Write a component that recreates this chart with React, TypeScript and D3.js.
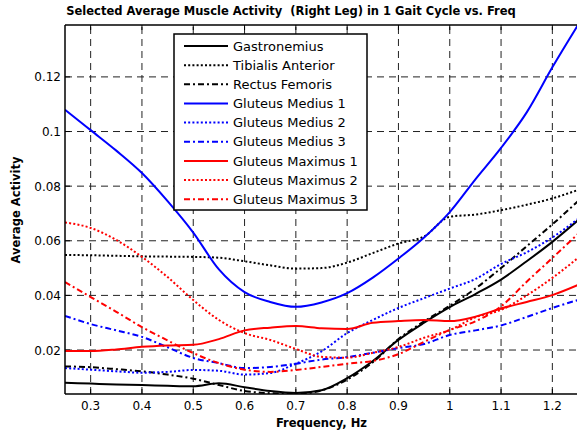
import React from "react";
import * as d3 from "d3";

const freq = [0.25, 0.3, 0.35, 0.4, 0.45, 0.5, 0.55, 0.6, 0.65, 0.7, 0.75, 0.8, 0.85, 0.9, 0.95, 1.0, 1.05, 1.1, 1.15, 1.2, 1.25];

const gastronemius = [0.008, 0.0077, 0.0074, 0.0072, 0.0069, 0.0067, 0.0078, 0.0064, 0.005, 0.0043, 0.0053, 0.0097, 0.016, 0.0237, 0.03, 0.0357, 0.0405, 0.0458, 0.0525, 0.0596, 0.0675];
const tibialisAnterior = [0.0548, 0.0547, 0.0545, 0.0543, 0.0542, 0.0541, 0.0538, 0.0525, 0.051, 0.0498, 0.05, 0.052, 0.0555, 0.059, 0.0616, 0.0688, 0.0696, 0.0712, 0.0732, 0.0755, 0.0786];
const rectusFemoris = [0.014, 0.0137, 0.013, 0.0122, 0.011, 0.0095, 0.0072, 0.005, 0.0042, 0.004, 0.0052, 0.0092, 0.0155, 0.024, 0.0305, 0.0362, 0.0425, 0.05, 0.058, 0.066, 0.0745];
const glutMed1 = [0.108, 0.1005, 0.093, 0.0848, 0.0745, 0.063, 0.0495, 0.0412, 0.0376, 0.0358, 0.0374, 0.0408, 0.0465, 0.0535, 0.0612, 0.0705, 0.0825, 0.094, 0.107, 0.1235, 0.139];
const glutMed2 = [0.0134, 0.0128, 0.0122, 0.0117, 0.012, 0.0127, 0.0124, 0.011, 0.0116, 0.015, 0.0195, 0.0262, 0.031, 0.0354, 0.039, 0.0425, 0.046, 0.0515, 0.0558, 0.0612, 0.068];
const glutMed3 = [0.0325, 0.0295, 0.0272, 0.0248, 0.021, 0.0171, 0.0152, 0.0134, 0.0138, 0.015, 0.0165, 0.0174, 0.019, 0.0207, 0.0222, 0.0255, 0.0272, 0.029, 0.0321, 0.0354, 0.0383];
const glutMax1 = [0.0196, 0.0196, 0.0202, 0.0212, 0.0217, 0.0219, 0.024, 0.0272, 0.0282, 0.0288, 0.028, 0.0277, 0.03, 0.0306, 0.031, 0.0306, 0.0322, 0.0352, 0.0376, 0.0401, 0.0438];
const glutMax2 = [0.0667, 0.0647, 0.0603, 0.0541, 0.0467, 0.0383, 0.031, 0.0262, 0.0237, 0.0204, 0.0175, 0.0172, 0.019, 0.0211, 0.0245, 0.0273, 0.032, 0.0347, 0.04, 0.0464, 0.0537];
const glutMax3 = [0.0449, 0.0394, 0.034, 0.0284, 0.0235, 0.0189, 0.0152, 0.0128, 0.012, 0.0127, 0.0138, 0.015, 0.016, 0.0185, 0.023, 0.0273, 0.0305, 0.036, 0.045, 0.0537, 0.0625];

const seriesNames = ["Gastronemius", "Tibialis Anterior", "Rectus Femoris", "Gluteus Medius 1", "Gluteus Medius 2", "Gluteus Medius 3", "Gluteus Maximus 1", "Gluteus Maximus 2", "Gluteus Maximus 3"];
const seriesValues = [gastronemius, tibialisAnterior, rectusFemoris, glutMed1, glutMed2, glutMed3, glutMax1, glutMax2, glutMax3];
const seriesColors = ["#000000", "#000000", "#000000", "#0000ff", "#0000ff", "#0000ff", "#ff0000", "#ff0000", "#ff0000"];
const seriesStyles = ["solid", "dotted", "dashdot", "solid", "dotted", "dashdot", "solid", "dotted", "dashdot"];

const xTicks = [0.3, 0.4, 0.5, 0.6, 0.7, 0.8, 0.9, 1.0, 1.1, 1.2];
const yTicks = [0.02, 0.04, 0.06, 0.08, 0.1, 0.12];
const xDomain = [0.25, 1.25];
const yDomain = [0.0039, 0.139];

const W = 577, H = 437;
const L = 65, R = 578, T = 25, B = 394;
const FONT = "'DejaVu Sans', sans-serif";

const dashFor = (s: string) => (s === "dotted" ? "2,2.2" : s === "dashdot" ? "6,3,2,3" : undefined);

export default function App() {
  const x = d3.scaleLinear().domain(xDomain).range([L, R]);
  const y = d3.scaleLinear().domain(yDomain).range([B, T]);
  const line = d3
    .line<number>()
    .x((_, i) => x(freq[i]))
    .y((d) => y(d))
    .curve(d3.curveMonotoneX);

  const legX = 174, legY = 34, legW = 193, legH = 176;
  const rowY = (i: number) => 46 + i * 19.15;

  return (
    <svg width={W} height={H} style={{ position: "absolute", left: 0, top: 0, background: "#fff" }} fontFamily={FONT}>
      <defs>
        <clipPath id="plot">
          <rect x={L} y={T} width={R - L} height={B - T} />
        </clipPath>
      </defs>
      <rect x={0} y={0} width={W} height={H} fill="#fff" />
      {/* grid */}
      <g stroke="#222" strokeWidth={1} strokeDasharray="7,5" fill="none">
        {xTicks.map((t) => (
          <line key={"gx" + t} x1={x(t)} x2={x(t)} y1={B} y2={T} />
        ))}
        {yTicks.map((t) => (
          <line key={"gy" + t} x1={L} x2={R} y1={y(t)} y2={y(t)} />
        ))}
      </g>
      {/* ticks */}
      <g stroke="#000" strokeWidth={1}>
        {xTicks.map((t) => (
          <g key={"tx" + t}>
            <line x1={x(t)} x2={x(t)} y1={B} y2={B - 5} />
            <line x1={x(t)} x2={x(t)} y1={T} y2={T + 5} />
          </g>
        ))}
        {yTicks.map((t) => (
          <line key={"ty" + t} x1={L} x2={L + 5} y1={y(t)} y2={y(t)} />
        ))}
      </g>
      {/* series */}
      <g clipPath="url(#plot)" fill="none">
        {seriesValues.map((vals, i) => (
          <path
            key={seriesNames[i]}
            d={line(vals) || ""}
            stroke={seriesColors[i]}
            strokeWidth={2}
            strokeDasharray={dashFor(seriesStyles[i])}
          />
        ))}
      </g>
      {/* axes frame */}
      <g stroke="#000" strokeWidth={1.5} fill="none">
        <line x1={L} x2={L} y1={T} y2={B} />
        <line x1={L} x2={R} y1={B} y2={B} />
        <line x1={L} x2={R} y1={T} y2={T} />
      </g>
      {/* tick labels */}
      <g fontSize={12} fill="#000">
        {xTicks.map((t) => (
          <text key={"lx" + t} x={x(t)} y={B + 16} textAnchor="middle">
            {d3.format("~g")(t)}
          </text>
        ))}
        {yTicks.map((t) => (
          <text key={"ly" + t} x={L - 4} y={y(t) + 4.5} textAnchor="end">
            {d3.format("~g")(t)}
          </text>
        ))}
      </g>
      {/* labels */}
      <text x={291} y={15} textAnchor="middle" fontSize={11.5} fontWeight="bold" style={{ whiteSpace: "pre" }}>
        {"Selected Average Muscle Activity  (Right Leg) in 1 Gait Cycle vs. Freq"}
      </text>
      <text x={(L + R) / 2} y={427} textAnchor="middle" fontSize={11.5} fontWeight="bold">
        Frequency, Hz
      </text>
      <text transform={`translate(20,210) rotate(-90)`} textAnchor="middle" fontSize={11.5} fontWeight="bold">
        Average Activity
      </text>
      {/* legend */}
      <g>
        <rect x={legX} y={legY} width={legW} height={legH} fill="#fff" stroke="#000" strokeWidth={1.5} />
        {seriesNames.map((n, i) => (
          <g key={"leg" + n}>
            <line
              x1={184}
              x2={228}
              y1={rowY(i)}
              y2={rowY(i)}
              stroke={seriesColors[i]}
              strokeWidth={2}
              strokeDasharray={dashFor(seriesStyles[i])}
            />
            <text x={233} y={rowY(i) + 4.6} fontSize={13} fill="#000">
              {n}
            </text>
          </g>
        ))}
      </g>
    </svg>
  );
}
